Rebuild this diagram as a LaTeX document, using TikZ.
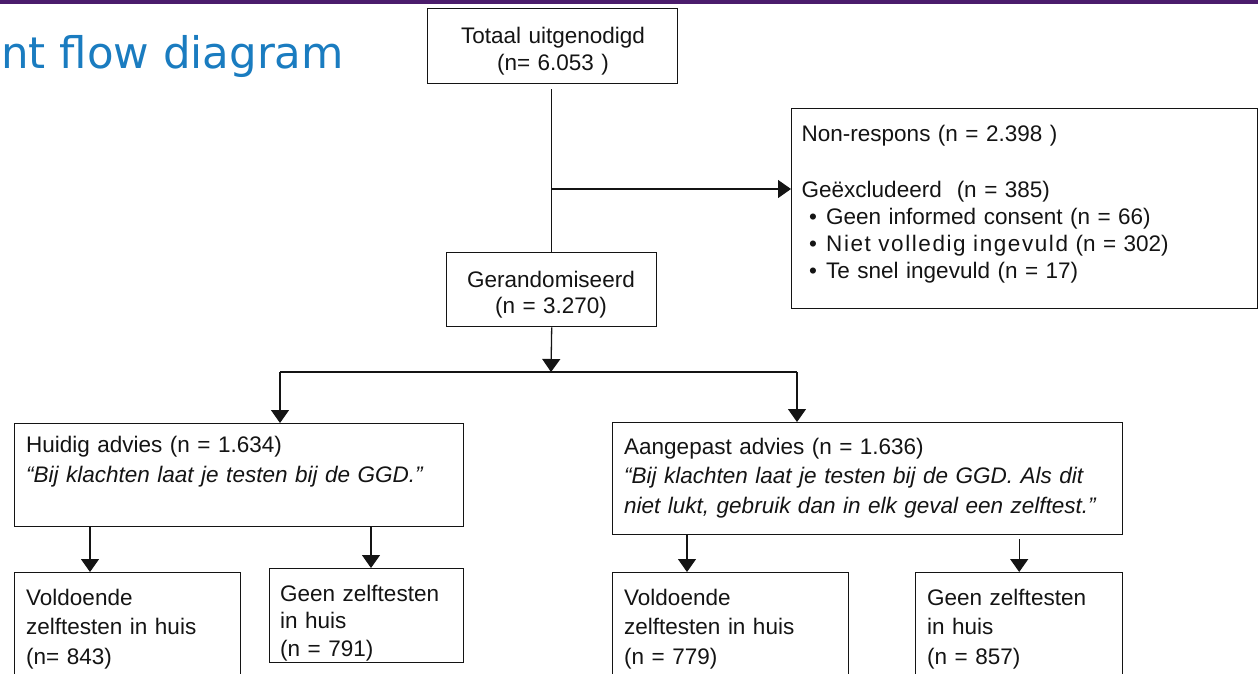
\documentclass[tikz,border=0pt]{standalone}
\usepackage{fontspec}
\setmainfont{Liberation Sans}
\newfontfamily\titlefont{DejaVu Sans}
\usetikzlibrary{arrows.meta}
\definecolor{barpurple}{RGB}{75,28,108}
\definecolor{titleblue}{RGB}{26,124,192}
\definecolor{ink}{RGB}{20,20,20}
\begin{document}
\begin{tikzpicture}[x=1pt,y=-1pt,
  box/.style={draw=ink,line width=1.4pt,inner sep=0pt,anchor=north west},
  conn/.style={draw=ink,line width=1.3pt},
  arr/.style={conn,-{Triangle[length=13pt,width=18pt]}},
  lab/.style={inner sep=0pt,anchor=base west,align=left,text width=620pt,text=ink},
  labc/.style={inner sep=0pt,anchor=base,align=center,text width=250pt,text=ink}]
\useasboundingbox (0,0) rectangle (1258,673);
\clip (0,0) rectangle (1258,673);
\fill[white] (0,0) rectangle (1258,673);
\fill[barpurple] (0,0) rectangle (1258,3.5);
\node[inner sep=0pt,anchor=base west,text=titleblue,font=\titlefont\fontsize{43.5}{50}\selectfont] (title) at (1,68) {nt flow diagram};

% boxes
\node[box,minimum width=250pt,minimum height=75pt] (tot) at (427,8) {};
\node[box,minimum width=466pt,minimum height=200pt] (nr) at (791,108) {};
\node[box,minimum width=210pt,minimum height=74pt] (ran) at (446,252) {};
\node[box,minimum width=449pt,minimum height=103pt] (hui) at (14,423) {};
\node[box,minimum width=510pt,minimum height=112pt] (aan) at (612,422) {};
\node[box,minimum width=226pt,minimum height=130pt] (vol1) at (14,572) {};
\node[box,minimum width=194pt,minimum height=94pt] (geen1) at (269,568) {};
\node[box,minimum width=236pt,minimum height=130pt] (vol2) at (612,572) {};
\node[box,minimum width=207pt,minimum height=130pt] (geen2) at (915,572) {};

% texts
\node[labc,font=\fontsize{22.5}{27}\selectfont] (totT) at (553,43) {Totaal uitgenodigd\\(n= 6.053 )};
\node[lab,font=\fontsize{22.5}{27}\selectfont] (nrT1) at (801.5,141) {Non-respons (n = 2.398 )};
\node[lab,font=\fontsize{22.5}{27}\selectfont] (nrT2) at (801.5,197) {Geëxcludeerd\ \ (n = 385)\\
\hspace*{7.5pt}\makebox[17pt][l]{•}Geen informed consent (n = 66)\\
\hspace*{7.5pt}\makebox[17pt][l]{•}{\addfontfeature{LetterSpace=7}Niet volledig ingevuld} (n = 302)\\
\hspace*{7.5pt}\makebox[17pt][l]{•}Te snel ingevuld (n = 17)};
\node[labc,font=\fontsize{22.5}{26}\selectfont] (ranT) at (551,287) {Gerandomiseerd\\(n = 3.270)};
\node[lab,font=\fontsize{22.5}{30}\selectfont] (huiT) at (26,452) {Huidig advies (n = 1.634)\\\textit{“Bij klachten laat je testen bij de GGD.”}};
\node[lab,font=\fontsize{22.5}{29.5}\selectfont] (aanT) at (624,454) {Aangepast advies (n = 1.636)\\\textit{“Bij klachten laat je testen bij de GGD. Als dit}\\\textit{niet lukt, gebruik dan in elk geval een zelftest.”}};
\node[lab,font=\fontsize{22.5}{29.5}\selectfont] (vol1T) at (26,605) {Voldoende\\zelftesten in huis\\(n= 843)};
\node[lab,font=\fontsize{22.5}{27.5}\selectfont] (geen1T) at (280,601) {Geen zelftesten\\in huis\\(n = 791)};
\node[lab,font=\fontsize{22.5}{29.5}\selectfont] (vol2T) at (624,605) {Voldoende\\zelftesten in huis\\(n = 779)};
\node[lab,font=\fontsize{22.5}{29.5}\selectfont] (geen2T) at (927,605) {Geen zelftesten\\in huis\\(n = 857)};

% connectors
\coordinate (s1) at (551,189);
\coordinate (s2) at (551,372);
\coordinate (bl) at (280,372);
\coordinate (br) at (797,372);
\coordinate (c1) at (90,0);
\coordinate (c2) at (371,0);
\coordinate (c3) at (687,0);
\draw[conn,shorten <=5pt] (tot.south -| ran.north) -- (ran.north);
\draw[arr] (s1) -- (s1 -| nr.west);
\draw[arr] (ran.south) -- (s2);
\draw[conn] (bl) -- (br);
\draw[arr] (bl) -- (bl |- hui.north);
\draw[arr] (br) -- (br |- aan.north);
\draw[arr] (hui.south -| c1) -- (vol1.north -| c1);
\draw[arr] (hui.south -| c2) -- (geen1.north -| c2);
\draw[arr] (aan.south -| c3) -- (vol2.north -| c3);
\draw[arr,shorten <=4pt] (aan.south -| geen2.north) -- (geen2.north);
\end{tikzpicture}
\end{document}
